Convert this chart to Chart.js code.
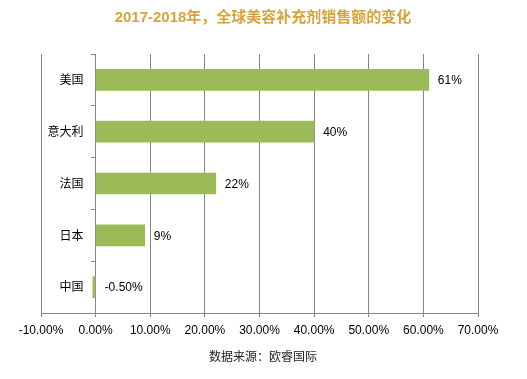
<!DOCTYPE html>
<html><head><meta charset="utf-8">
<script src="https://cdn.jsdelivr.net/npm/chart.js@4/dist/chart.umd.min.js"></script>
<style>html,body{margin:0;padding:0;background:#fff;}#c{display:block;}</style>
</head><body>
<canvas id="c" width="527" height="379"></canvas>
<script>
const titleText = '2017-2018年，全球美容补充剂销售额的变化';
const sourceText = '数据来源：欧睿国际';
const categories = ['美国', '意大利', '法国', '日本', '中国'];
const values = [61, 40, 22, 9, -0.5];
const valueLabels = ['61%', '40%', '22%', '9%', '-0.50%'];
const xTicks = [-10, 0, 10, 20, 30, 40, 50, 60, 70];

const CJK = '"Liberation Sans", "Noto Sans CJK SC", sans-serif';

const textPlugin = {
  id: 'texts',
  afterDraw(chart) {
    const ctx = chart.ctx;
    ctx.save();
    ctx.textAlign = 'center';
    ctx.textBaseline = 'middle';
    ctx.fillStyle = '#D6A33B';
    ctx.font = 'bold 15px ' + CJK;
    ctx.fillText(titleText, 263, 18);
    ctx.fillStyle = '#222';
    ctx.font = '12px ' + CJK;
    ctx.fillText(sourceText, 263, 358);
    const xs = chart.scales.x, ys = chart.scales.y;
    const x0 = xs.getPixelForValue(0);
    ctx.fillStyle = '#000';
    ctx.font = '12px ' + CJK;
    // category labels
    ctx.textAlign = 'right';
    categories.forEach((c, i) => {
      ctx.fillText(c, x0 - 12, ys.getPixelForValue(i) + 1);
    });
    // data labels
    ctx.textAlign = 'left';
    values.forEach((v, i) => {
      const x = xs.getPixelForValue(Math.max(0, v)) + 9;
      const y = ys.getPixelForValue(i);
      ctx.fillText(valueLabels[i], x, y + 1);
    });
    ctx.restore();
  }
};

new Chart(document.getElementById('c'), {
  type: 'bar',
  data: {
    labels: categories,
    datasets: [{
      data: values,
      backgroundColor: '#9BBB59',
      borderWidth: 0,
      barThickness: 21
    }]
  },
  options: {
    indexAxis: 'y',
    responsive: false,
    animation: false,
    layout: { padding: { top: 54, left: 41, right: 49, bottom: 0 } },
    plugins: { legend: { display: false }, title: { display: false }, tooltip: { enabled: false } },
    scales: {
      x: {
        type: 'linear',
        min: -10, max: 70,
        afterBuildTicks(scale) { scale.ticks = xTicks.map(v => ({ value: v })); },
        afterFit(scale) { scale.height = 66; },
        ticks: {
          callback: v => v.toFixed(2) + '%',
          color: '#000',
          font: { family: CJK, size: 12 },
          padding: 6,
          maxRotation: 0
        },
        grid: { color: '#868686', lineWidth: 1, tickLength: 4, drawTicks: true },
        border: { color: '#868686', width: 1 }
      },
      y: {
        position: { x: 0 },
        offset: true,
        ticks: { display: false },
        grid: { drawOnChartArea: false, tickLength: 4, color: '#868686', offset: true },
        border: { color: '#868686', width: 1 }
      }
    }
  },
  plugins: [textPlugin]
});
</script>
</body></html>
